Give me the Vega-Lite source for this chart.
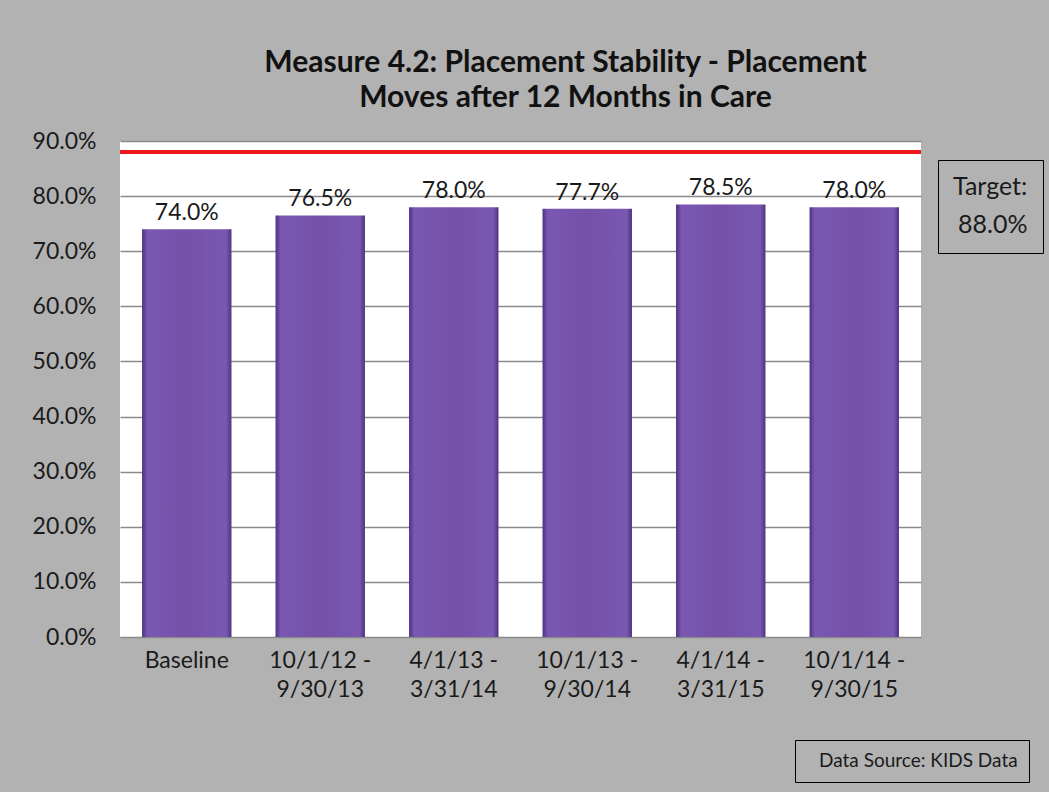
{
  "$schema": "https://vega.github.io/schema/vega-lite/v6.json",
  "width": 801,
  "height": 496,
  "autosize": {"type": "none"},
  "padding": {"left": 120, "top": 141, "right": 128, "bottom": 155},
  "background": "#b2b2b2",
  "title": {
    "text": ["Measure 4.2: Placement Stability - Placement", "Moves after 12 Months in Care"],
    "font": "Lato",
    "fontSize": 30,
    "fontWeight": "bold",
    "color": "#111111",
    "anchor": "middle",
    "dx": 45,
    "offset": 17,
    "lineHeight": 35
  },
  "config": {
    "view": {"fill": "white", "stroke": null},
    "font": "Lato",
    "text": {"font": "Lato"}
  },
  "layer": [
    {
      "data": {
        "values": [
          {"period": "Baseline", "rate": 0.740},
          {"period": "10/1/12 - 9/30/13", "rate": 0.765},
          {"period": "4/1/13 - 3/31/14", "rate": 0.780},
          {"period": "10/1/13 - 9/30/14", "rate": 0.777},
          {"period": "4/1/14 - 3/31/15", "rate": 0.785},
          {"period": "10/1/14 - 9/30/15", "rate": 0.780}
        ]
      },
      "layer": [
        {
          "mark": {
            "type": "bar",
            "color": {
              "gradient": "linear",
              "x1": 0, "x2": 1, "y1": 0, "y2": 0,
              "stops": [
                {"offset": 0, "color": "#4e3380"},
                {"offset": 0.06, "color": "#7a58b2"},
                {"offset": 0.5, "color": "#7550a8"},
                {"offset": 0.94, "color": "#7a58b2"},
                {"offset": 1, "color": "#4e3380"}
              ]
            }
          },
          "encoding": {
            "x": {
              "field": "period",
              "type": "nominal",
              "sort": null,
              "title": null,
              "scale": {"paddingInner": 0.33, "paddingOuter": 0.165},
              "axis": {
                "labelAngle": 0,
                "labelFont": "Lato",
                "labelFontSize": 23,
                "labelColor": "#1a1a1a",
                "labelPadding": 12,
                "labelLineHeight": 29,
                "labelExpr": "datum.label == 'Baseline' ? 'Baseline' : [split(datum.label, ' - ')[0] + ' -', split(datum.label, ' - ')[1]]",
                "ticks": false,
                "domain": false,
                "grid": false
              }
            },
            "y": {
              "field": "rate",
              "type": "quantitative",
              "title": null,
              "scale": {"domain": [0, 0.9], "nice": false},
              "axis": {
                "values": [0, 0.1, 0.2, 0.3, 0.4, 0.5, 0.6, 0.7, 0.8, 0.9],
                "format": ".1%",
                "labelFont": "Lato",
                "labelFontSize": 23,
                "labelColor": "#1a1a1a",
                "labelPadding": 24,
                "ticks": false,
                "domain": false,
                "gridColor": "#8a8a8a",
                "gridWidth": 1.3
              }
            }
          }
        },
        {
          "mark": {"type": "text", "baseline": "bottom", "dy": -4, "font": "Lato", "fontSize": 23, "color": "#1a1a1a"},
          "encoding": {
            "x": {"field": "period", "type": "nominal", "sort": null},
            "y": {"field": "rate", "type": "quantitative"},
            "text": {"field": "rate", "type": "quantitative", "format": ".1%"}
          }
        }
      ]
    },
    {
      "data": {
        "values": [
          {"target": 0.88, "targetLabel": "88.0%", "source": "Data Source: KIDS Data"}
        ]
      },
      "layer": [
        {
          "mark": {"type": "rule", "strokeWidth": 4},
          "encoding": {
            "y": {"field": "target", "type": "quantitative"},
            "stroke": {
              "field": "targetLabel",
              "type": "nominal",
              "scale": {"range": ["#f01818"]},
              "legend": {
                "title": "Target:",
                "orient": "none",
                "legendX": 818,
                "legendY": 19,
                "direction": "vertical",
                "titleFont": "Lato",
                "titleFontSize": 25,
                "titleFontWeight": "normal",
                "titleColor": "#1a1a1a",
                "titlePadding": 2,
                "labelFont": "Lato",
                "labelFontSize": 25,
                "labelColor": "#1a1a1a",
                "symbolSize": 2025,
                "symbolStrokeWidth": 0,
                "symbolOpacity": 0,
                "labelOffset": -40,
                "padding": 15,
                "strokeColor": "#000000",
                "fillColor": "#b2b2b2"
              }
            }
          }
        },
        {
          "mark": {"type": "point", "opacity": 0},
          "encoding": {
            "y": {"field": "target", "type": "quantitative"},
            "shape": {
              "field": "source",
              "type": "nominal",
              "legend": {
                "title": null,
                "orient": "none",
                "legendX": 675,
                "legendY": 599,
                "labelFont": "Lato",
                "labelFontSize": 19,
                "labelColor": "#1a1a1a",
                "labelLimit": 400,
                "symbolSize": 0,
                "symbolStrokeWidth": 0,
                "symbolOpacity": 0,
                "labelOffset": -6,
                "padding": 11,
                "strokeColor": "#000000",
                "fillColor": "#b2b2b2"
              }
            }
          }
        }
      ]
    }
  ]
}
